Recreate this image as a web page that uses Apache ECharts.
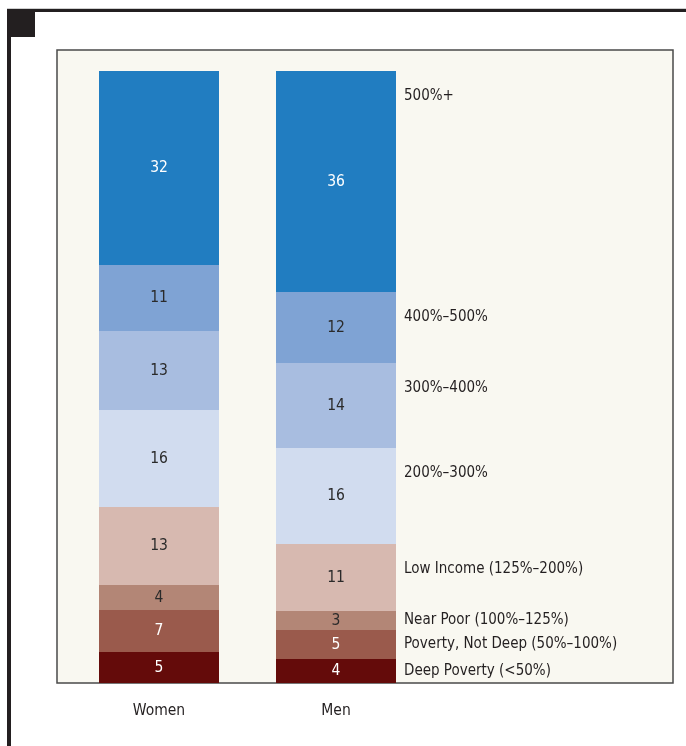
<!DOCTYPE html>
<html lang="en">
<head>
<meta charset="UTF-8">
<title>Income-to-poverty ratio by sex</title>
<script src="https://cdn.jsdelivr.net/npm/echarts@6/dist/echarts.min.js"></script>
<style>
  html, body { margin: 0; padding: 0; background: #fff; }
  #main { width: 686px; height: 746px; }
</style>
</head>
<body>
<div id="main"></div>
<script>
// bottom to top, percent of each group (shown rounded on the bars)
const groups = ['Women', 'Men'];
const bands = ['Deep Poverty (<50%)', 'Poverty, Not Deep (50%–100%)', 'Near Poor (100%–125%)',
  'Low Income (125%–200%)', '200%–300%', '300%–400%', '400%–500%', '500%+'];
const women = [5.07, 6.86, 4.08, 12.75, 15.85, 12.9, 10.78, 31.7];
const men = [3.92, 4.74, 3.1, 10.95, 15.69, 13.89, 11.6, 36.1];

const colors = ['#640b0a', '#9a5a4c', '#b38676', '#d7b9b0', '#d1dcef', '#a8bde0', '#7fa3d4', '#217dc1'];
const textColors = ['#fff', '#fff', '#2a2a2a', '#2a2a2a', '#2a2a2a', '#2a2a2a', '#2a2a2a', '#fff'];
const font = "'Liberation Sans Narrow', 'DejaVu Sans Condensed', 'Roboto', sans-serif";

let myChart = echarts.init(document.getElementById('main'));

let series = [];
bands.forEach((name, i) => {
    series.push({
        name: name,
        type: 'bar',
        stack: 'total',
        barWidth: 120,
        barGap: '-100%',
        data: [women[i], men[i]],
        itemStyle: { color: colors[i] },
        label: {
            show: true,
            position: 'inside',
            color: textColors[i],
            fontFamily: font,
            fontSize: 15.5,
            formatter: p => Math.round(p.value)
        },
        emphasis: { disabled: true }
    });
});
// invisible copy of the Men bar that carries the band names on its right side
bands.forEach((name, i) => {
    series.push({
        name: name + ' label',
        type: 'bar',
        stack: 'names',
        barWidth: 120,
        barGap: '-100%',
        silent: true,
        data: [null, men[i]],
        itemStyle: { color: 'rgba(0,0,0,0)' },
        label: {
            show: true,
            position: men[i] > 6 ? ['100%', 25] : ['100%', '50%'],
            offset: [8, 0],
            align: 'left',
            verticalAlign: 'middle',
            color: '#231f20',
            fontFamily: font,
            fontSize: 15,
            formatter: () => name
        },
        emphasis: { disabled: true }
    });
});

let option = {
    backgroundColor: '#fff',
    animation: false,
    graphic: {
        elements: [
            { type: 'rect', z: -10, shape: { x: 7, y: 8, width: 679, height: 1 }, style: { fill: '#cfcfcf' } },
            { type: 'rect', z: -10, shape: { x: 7, y: 9, width: 679, height: 3 }, style: { fill: '#231f20' } },
            { type: 'rect', z: -10, shape: { x: 7, y: 9, width: 4, height: 737 }, style: { fill: '#231f20' } },
            { type: 'rect', z: -10, shape: { x: 11, y: 12, width: 24, height: 25 }, style: { fill: '#231f20' } },
            { type: 'rect', z: -10, shape: { x: 57, y: 50, width: 616, height: 633 },
              style: { fill: '#f9f8f1', stroke: '#4a4a4a', lineWidth: 1.5 } }
        ]
    },
    grid: { left: 70.5, top: 71, width: 354, bottom: 63 },
    xAxis: {
        type: 'category',
        data: groups,
        axisLine: { show: false },
        axisTick: { show: false },
        axisLabel: { color: '#231f20', fontFamily: font, fontSize: 15.5, margin: 20 }
    },
    yAxis: { type: 'value', min: 0, max: 100, show: false },
    series: series
};
myChart.setOption(option);
</script>
</body>
</html>
